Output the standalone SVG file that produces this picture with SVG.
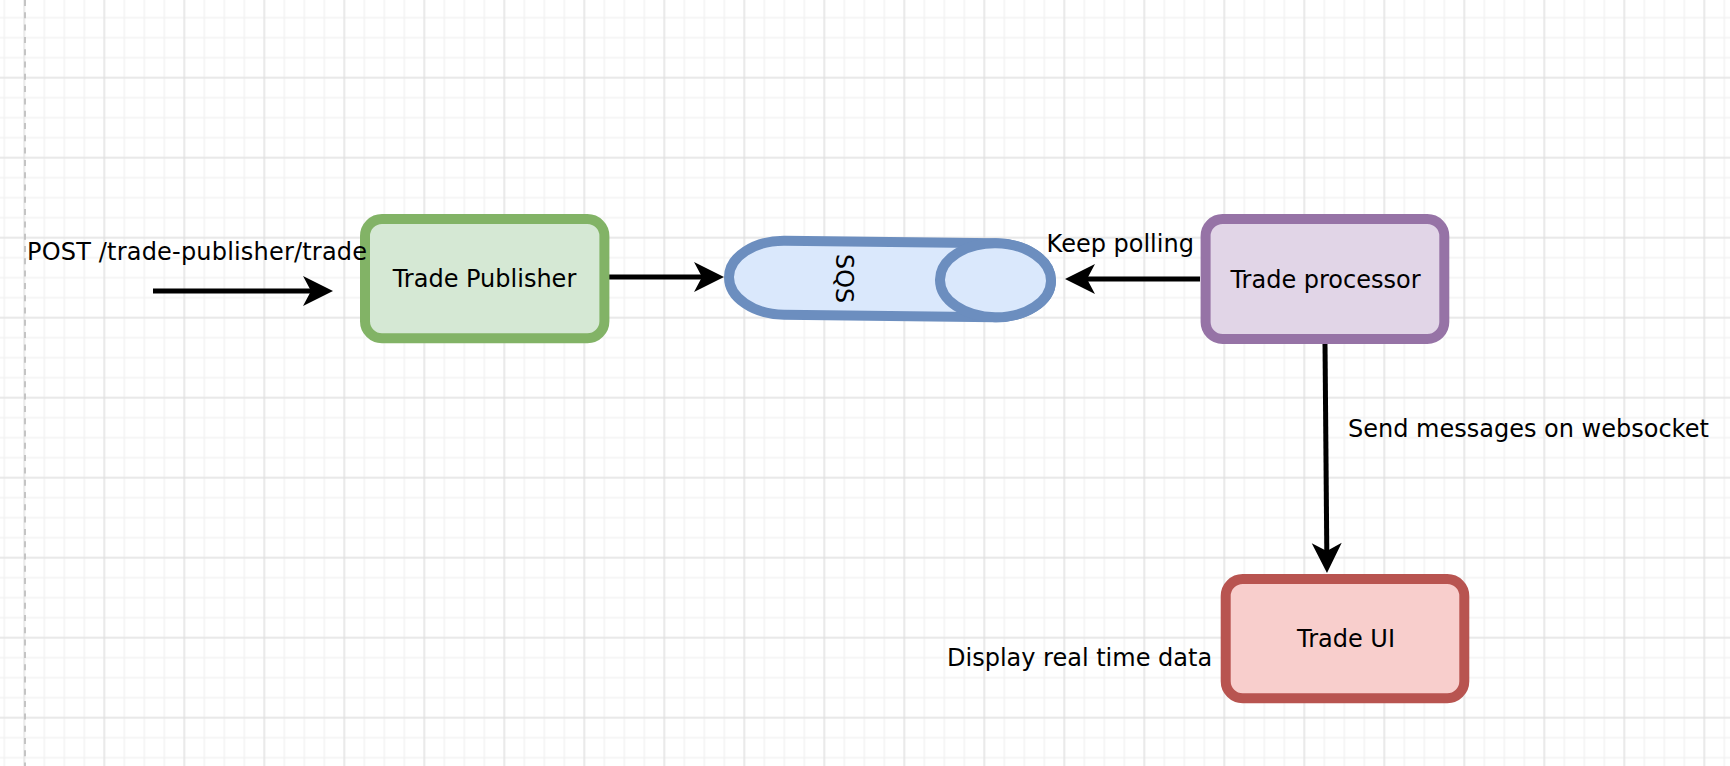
<svg xmlns="http://www.w3.org/2000/svg" width="1730" height="766" viewBox="0 0 1730 766">
  <style>
    .lbl { font-family: "DejaVu Sans", "Liberation Sans", sans-serif; font-size: 24px; fill: #000000; }
    .mid { text-anchor: middle; }
    .box { stroke-width: 10; }
    .edge { fill: none; stroke: #000000; stroke-width: 5; }
  </style>
  <defs>
    <pattern id="gridMinor" patternUnits="userSpaceOnUse" x="-5.7" y="7.7" width="20" height="20">
      <path d="M10,0 V20 M0,10 H20" stroke="#f3f3f3" stroke-width="1.5" fill="none"/>
    </pattern>
    <pattern id="gridMajor" patternUnits="userSpaceOnUse" x="-15.7" y="37.7" width="80" height="80">
      <path d="M40,0 V80 M0,40 H80" stroke="#dddddd" stroke-width="1" fill="none"/>
    </pattern>
    <marker id="arrow" markerUnits="userSpaceOnUse" viewBox="-32 -17 34 34" markerWidth="34" markerHeight="34" refX="-22" refY="0" orient="auto">
      <path d="M0,0 L-30,-15 L-22,0 L-30,15 Z" fill="#000000"/>
    </marker>
  </defs>

  <g id="background">
    <rect x="0" y="0" width="1730" height="766" fill="#ffffff"/>
    <rect x="0" y="0" width="1730" height="766" fill="url(#gridMinor)"/>
    <rect x="0" y="0" width="1730" height="766" fill="url(#gridMajor)"/>
    <line x1="25" y1="0" x2="25" y2="766" stroke="#c4c4c4" stroke-width="2" stroke-dasharray="6 6.3"/>
  </g>

  <g id="connectors">
    <line class="edge" x1="153" y1="291" x2="311" y2="291" marker-end="url(#arrow)"/>
    <line class="edge" x1="609" y1="277" x2="702" y2="277" marker-end="url(#arrow)"/>
    <line class="edge" x1="1200" y1="279" x2="1087" y2="279" marker-end="url(#arrow)"/>
    <line class="edge" x1="1325" y1="343" x2="1326.8" y2="551" marker-end="url(#arrow)"/>
  </g>

  <g id="trade-publisher">
    <rect class="box" x="365" y="219" width="239.4" height="119.3" rx="17" ry="17" fill="#d5e8d4" stroke="#82b366"/>
    <text class="lbl mid" x="484.5" y="287">Trade Publisher</text>
  </g>

  <g id="sqs" transform="translate(890,279) rotate(0.7)">
    <path d="M-105.5,-37 L105.5,-37 A55.5,37 0 0 1 105.5,37 L-105.5,37 A55.5,37 0 0 1 -105.5,-37 Z" fill="#dae8fc" stroke="#6c8ebf" stroke-width="10"/>
    <ellipse cx="105.5" cy="0" rx="55.5" ry="37" fill="#dae8fc" stroke="#6c8ebf" stroke-width="10"/>
    <text class="lbl mid" transform="translate(-45,0) rotate(90)" x="0" y="8.7">SQS</text>
  </g>

  <g id="trade-processor">
    <rect class="box" x="1205.6" y="219" width="238.7" height="120" rx="17" ry="17" fill="#e1d5e7" stroke="#9673a6"/>
    <text class="lbl mid" x="1325.5" y="288">Trade processor</text>
  </g>

  <g id="trade-ui">
    <rect class="box" x="1225.7" y="579" width="238.6" height="119.3" rx="17" ry="17" fill="#f8cecc" stroke="#b85450"/>
    <text class="lbl mid" x="1346" y="647">Trade UI</text>
  </g>

  <g id="edge-labels">
    <text class="lbl" x="27" y="260" textLength="340" lengthAdjust="spacing">POST /trade-publisher/trade</text>
    <text class="lbl" x="1046.6" y="252">Keep polling</text>
    <text class="lbl" x="1348" y="437">Send messages on websocket</text>
    <text class="lbl" x="947" y="666">Display real time data</text>
  </g>
</svg>
